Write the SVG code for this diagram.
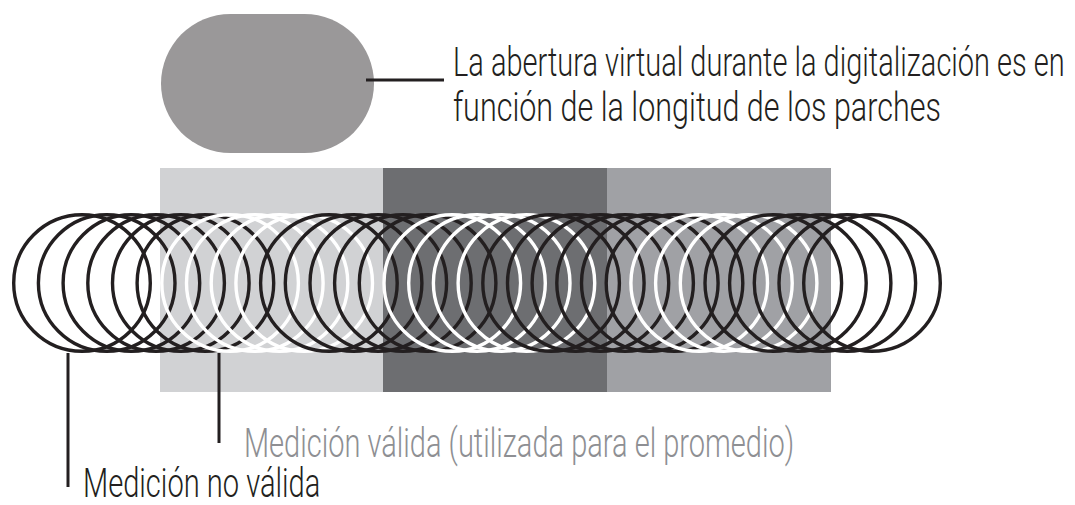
<svg xmlns="http://www.w3.org/2000/svg" width="1075" height="505" viewBox="0 0 1075 505">
<style>
.blk{fill:none;stroke:#231f20;stroke-width:3.4}
.wht{fill:none;stroke:#ffffff;stroke-width:3.4}
.lead{stroke:#231f20;stroke-width:3;fill:none}
.t{font-family:Roboto,"Liberation Sans",Arial,sans-serif;font-weight:300;font-size:40px}
</style>
<rect width="1075" height="505" fill="#ffffff"/>
<g id="aperture">
<rect x="161" y="14" width="213" height="139" rx="69.5" ry="69.5" fill="#9a9899"/>
</g>
<g id="patches">
<rect x="160" y="168" width="223" height="224" fill="#d1d2d4"/>
<rect x="383" y="168" width="224" height="224" fill="#6d6e71"/>
<rect x="607" y="168" width="224" height="224" fill="#a0a1a5"/>
</g>
<g id="circles">
<circle class="blk" cx="82" cy="283" r="68.3"/>
<circle class="blk" cx="106.7" cy="283" r="68.3"/>
<circle class="blk" cx="131.4" cy="283" r="68.3"/>
<circle class="blk" cx="156.1" cy="283" r="68.3"/>
<circle class="blk" cx="180.8" cy="283" r="68.3"/>
<circle class="blk" cx="205.4" cy="283" r="68.3"/>
<circle class="wht" cx="230.1" cy="283" r="68.3"/>
<circle class="wht" cx="254.8" cy="283" r="68.3"/>
<circle class="wht" cx="279.5" cy="283" r="68.3"/>
<circle class="wht" cx="304.2" cy="283" r="68.3"/>
<circle class="blk" cx="328.9" cy="283" r="68.3"/>
<circle class="blk" cx="353.6" cy="283" r="68.3"/>
<circle class="blk" cx="378.3" cy="283" r="68.3"/>
<circle class="blk" cx="402.9" cy="283" r="68.3"/>
<circle class="blk" cx="427.6" cy="283" r="68.3"/>
<circle class="wht" cx="452.3" cy="283" r="68.3"/>
<circle class="wht" cx="477" cy="283" r="68.3"/>
<circle class="wht" cx="501.7" cy="283" r="68.3"/>
<circle class="wht" cx="526.4" cy="283" r="68.3"/>
<circle class="blk" cx="551.1" cy="283" r="68.3"/>
<circle class="blk" cx="575.8" cy="283" r="68.3"/>
<circle class="blk" cx="600.4" cy="283" r="68.3"/>
<circle class="blk" cx="625.1" cy="283" r="68.3"/>
<circle class="blk" cx="649.8" cy="283" r="68.3"/>
<circle class="blk" cx="674.5" cy="283" r="68.3"/>
<circle class="wht" cx="699.2" cy="283" r="68.3"/>
<circle class="wht" cx="723.9" cy="283" r="68.3"/>
<circle class="wht" cx="748.6" cy="283" r="68.3"/>
<circle class="blk" cx="773.3" cy="283" r="68.3"/>
<circle class="blk" cx="797.9" cy="283" r="68.3"/>
<circle class="blk" cx="822.6" cy="283" r="68.3"/>
<circle class="blk" cx="847.3" cy="283" r="68.3"/>
<circle class="blk" cx="872" cy="283" r="68.3"/>
</g>
<g id="connectors">
<line class="lead" x1="366" y1="80" x2="444" y2="80"/>
<line class="lead" x1="219" y1="353" x2="219" y2="443"/>
<line class="lead" x1="68" y1="353" x2="68" y2="487"/>
</g>
<g id="label-aperture">
<text class="t" transform="translate(453 76) scale(0.7 1)" x="0" y="0" fill="#231f20" textLength="874" lengthAdjust="spacingAndGlyphs">La abertura virtual durante la digitalización es en</text>
<text class="t" transform="translate(453 121) scale(0.7 1)" x="0" y="0" fill="#231f20" textLength="697" lengthAdjust="spacingAndGlyphs">función de la longitud de los parches</text>
</g>
<g id="label-valid">
<text class="t" transform="translate(244 457) scale(0.7 1)" x="0" y="0" fill="#8e8f93" textLength="786" lengthAdjust="spacingAndGlyphs">Medición válida (utilizada para el promedio)</text>
</g>
<g id="label-invalid">
<text class="t" transform="translate(83 497) scale(0.7 1)" x="0" y="0" fill="#231f20" textLength="339" lengthAdjust="spacingAndGlyphs">Medición no válida</text>
</g>
</svg>
